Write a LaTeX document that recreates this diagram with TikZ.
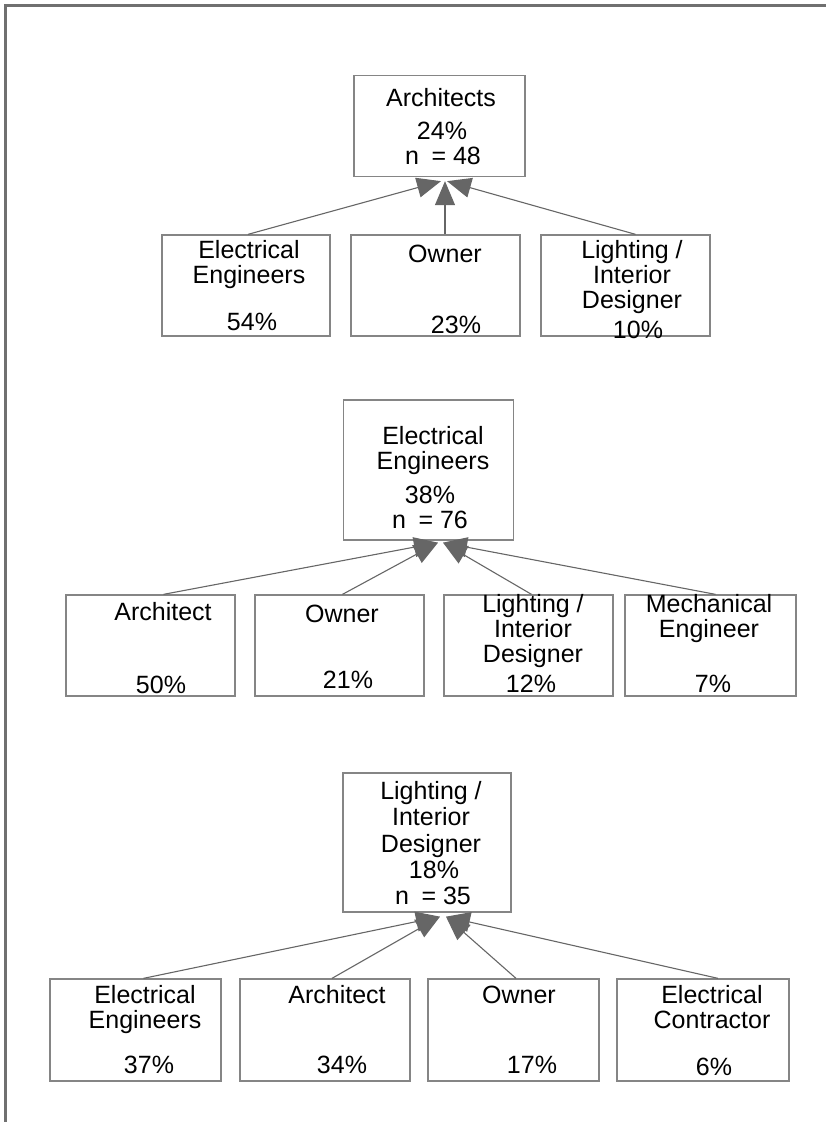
\documentclass[tikz,border=0pt]{standalone}
\usepackage{fontspec}
\setmainfont{Liberation Sans}
\usetikzlibrary{arrows.meta}
\definecolor{framegray}{HTML}{707070}
\definecolor{boxgray}{HTML}{858585}
\definecolor{linegray}{HTML}{666666}
\tikzset{
  box/.style={draw=boxgray, line width=1.3pt, minimum width=170pt, minimum height=101pt, inner sep=0pt},
  lbl/.style={anchor=base, inner sep=0pt, font=\fontsize{25}{26}\selectfont},
  link/.style={draw=linegray, line width=1.1pt, -{Triangle[length=24pt,width=20pt]}}
}
\begin{document}
\begin{tikzpicture}[x=1pt,y=-1pt]
\useasboundingbox (0,0) rectangle (826,1122);
\draw[framegray, line width=2.6pt] (5.5,1122) -- (5.5,5.5) -- (826,5.5);

% architects
\node[box, minimum width=171pt] (a0) at (439.5,126) {};
\node[lbl] (a0-1) at (441,106) {Architects};
\node[lbl] (a0-2) at (442,139) {24\%};
\node[lbl] (a0-3) at (443,164) {n\hspace{0.5em}= 48};

\node[box, minimum width=168pt] (a1) at (246,285.5) {};
\node[lbl] (a1-1) at (249,258) {Electrical};
\node[lbl] (a1-2) at (249,283) {Engineers};
\node[lbl] (a1-p) at (252,330) {54\%};

\node[box, minimum width=169pt] (a2) at (435.5,285.5) {};
\node[lbl] (a2-1) at (445,262) {Owner};
\node[lbl] (a2-p) at (456,333) {23\%};

\node[box, minimum width=169pt] (a3) at (625.5,285.5) {};
\foreach \t [count=\i] in {Lighting /,Interior,Designer}
  \node[lbl] (a3-\i) at (632,{258+25*(\i-1)}) {\t};
\node[lbl] (a3-p) at (638,338) {10\%};

\draw[link] ([xshift=2pt]a1.north) -- ([xshift=1.5pt,yshift=-4pt]a0.south);
\draw[link] ([xshift=9.5pt]a2.north) -- ([xshift=5.5pt,yshift=-4pt]a0.south);
\draw[link] ([xshift=10pt]a3.north) -- ([xshift=7.5pt,yshift=-4pt]a0.south);

% electrical engineers
\node[box, minimum height=140pt] (b0) at (428.5,470) {};
\node[lbl] (b0-1) at (433,444) {Electrical};
\node[lbl] (b0-2) at (433,469) {Engineers};
\node[lbl] (b0-3) at (430,503) {38\%};
\node[lbl] (b0-4) at (430,528) {n\hspace{0.5em}= 76};

\node[box, minimum width=169pt] (b1) at (150.5,645.5) {};
\node[lbl] (b1-1) at (163,620) {Architect};
\node[lbl] (b1-p) at (161,693) {50\%};

\node[box, minimum width=169pt] (b2) at (339.5,645.5) {};
\node[lbl] (b2-1) at (342,622) {Owner};
\node[lbl] (b2-p) at (348,688) {21\%};

\node[box, minimum width=169pt] (b3) at (528.5,645.5) {};
\foreach \t [count=\i] in {Lighting /,Interior,Designer}
  \node[lbl] (b3-\i) at (533,{612+25*(\i-1)}) {\t};
\node[lbl] (b3-p) at (531,692) {12\%};

\node[box, minimum width=171pt] (b4) at (710.5,645.5) {};
\node[lbl] (b4-1) at (709,612) {Mechanical};
\node[lbl] (b4-2) at (709,637) {Engineer};
\node[lbl] (b4-p) at (713,692) {7\%};

\draw[link] ([xshift=13pt]b1.north) -- ([xshift=9.5pt,yshift=-2pt]b0.south);
\draw[link] ([xshift=3pt]b2.north) -- ([xshift=9.5pt,yshift=-2pt]b0.south);
\draw[link] ([xshift=3pt]b3.north) -- ([xshift=14.5pt,yshift=-2pt]b0.south);
\draw[link] ([xshift=5pt]b4.north) -- ([xshift=14.5pt,yshift=-2pt]b0.south);

% lighting / interior designer
\node[box, minimum width=168pt, minimum height=139pt] (c0) at (427,842.5) {};
\foreach \t [count=\i] in {Lighting /,Interior,Designer}
  \node[lbl] (c0-\i) at (431,{799+26.5*(\i-1)}) {\t};
\node[lbl] (c0-4) at (434,878) {18\%};
\node[lbl] (c0-5) at (433,904) {n\hspace{0.5em}= 35};

\node[box, minimum width=171pt, minimum height=102pt] (c1) at (135.5,1030) {};
\node[lbl] (c1-1) at (145,1003) {Electrical};
\node[lbl] (c1-2) at (145,1028) {Engineers};
\node[lbl] (c1-p) at (149,1073) {37\%};

\node[box, minimum height=102pt] (c2) at (325,1030) {};
\node[lbl] (c2-1) at (337,1003) {Architect};
\node[lbl] (c2-p) at (342,1073) {34\%};

\node[box, minimum width=171pt, minimum height=102pt] (c3) at (513.5,1030) {};
\node[lbl] (c3-1) at (519,1003) {Owner};
\node[lbl] (c3-p) at (532,1073) {17\%};

\node[box, minimum width=172pt, minimum height=102pt] (c4) at (703,1030) {};
\node[lbl] (c4-1) at (712,1003) {Electrical};
\node[lbl] (c4-2) at (712,1028) {Contractor};
\node[lbl] (c4-p) at (714,1075) {6\%};

\draw[link] ([xshift=8pt]c1.north) -- ([xshift=13pt,yshift=-4pt]c0.south);
\draw[link] ([xshift=7pt]c2.north) -- ([xshift=13pt,yshift=-4pt]c0.south);
\draw[link] ([xshift=2.5pt]c3.north) -- ([xshift=19pt,yshift=-4pt]c0.south);
\draw[link] ([xshift=15pt]c4.north) -- ([xshift=19pt,yshift=-4pt]c0.south);
\end{tikzpicture}
\end{document}
